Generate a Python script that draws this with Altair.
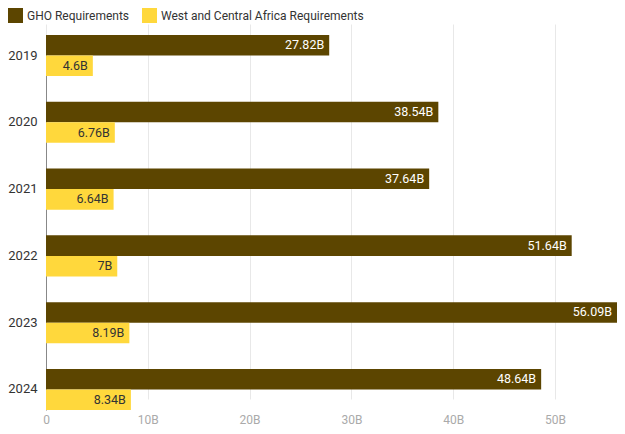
import altair as alt
import pandas as pd

years = ["2019", "2020", "2021", "2022", "2023", "2024"]
gho = [27.82, 38.54, 37.64, 51.64, 56.09, 48.64]
wca = [4.6, 6.76, 6.64, 7, 8.19, 8.34]
series_names = ["GHO Requirements", "West and Central Africa Requirements"]

rows = []
for y, g, w in zip(years, gho, wca):
    rows.append({"year": y, "series": series_names[0], "value": g, "label": f"{g:g}B"})
    rows.append({"year": y, "series": series_names[1], "value": w, "label": f"{w:g}B"})
df = pd.DataFrame(rows)

font = "Roboto"
W, H = 571, 386

y_enc = alt.Y("year:N", sort=years, title=None,
              scale=alt.Scale(range=[11, H], paddingInner=0.385, paddingOuter=0),
              axis=alt.Axis(labelFontSize=13, labelColor="#333", labelFont=font,
                            ticks=False, labelPadding=9, domainColor="#888",
                            domainWidth=1))
x_enc = alt.X("value:Q", title=None,
              scale=alt.Scale(domain=[0, 56.09], nice=False),
              axis=alt.Axis(values=[0, 10, 20, 30, 40, 50],
                            labelExpr="datum.value == 0 ? '0' : datum.value + 'B'",
                            labelFontSize=12, labelColor="#aaa", labelFont=font,
                            ticks=False, domain=False, grid=True, gridColor="#e8e8e8",
                            labelPadding=4, labelFlush=False))
yoff = alt.YOffset("series:N", sort=series_names)

bars = alt.Chart(df).mark_bar().encode(
    y=y_enc, x=x_enc, yOffset=yoff,
    color=alt.Color("series:N", sort=series_names, title=None,
                    scale=alt.Scale(domain=series_names, range=["#5c4500", "#ffd83c"]),
                    legend=alt.Legend(orient="none", legendX=-38, legendY=-16,
                                      direction="horizontal", symbolType="square",
                                      symbolSize=225, symbolStrokeWidth=0,
                                      labelFontSize=12, labelColor="#333", labelFont=font,
                                      labelLimit=400, columnPadding=12, symbolOpacity=1)),
)

texts = alt.Chart(df).mark_text(align="right", dx=-5, fontSize=12.5, font=font).encode(
    y=alt.Y("year:N", sort=years), x=alt.X("value:Q"), yOffset=yoff,
    text="label:N",
    color=alt.condition(alt.datum.series == series_names[0], alt.value("white"), alt.value("#333")),
)

chart = (bars + texts).properties(
    width=W, height=H,
    autosize=alt.AutoSizeParams(type="none"),
    padding={"left": 38, "top": 16, "right": 0, "bottom": 16},
).configure_view(stroke=None)

chart.save("out.html", embed_options={"renderer": "svg", "actions": False})
